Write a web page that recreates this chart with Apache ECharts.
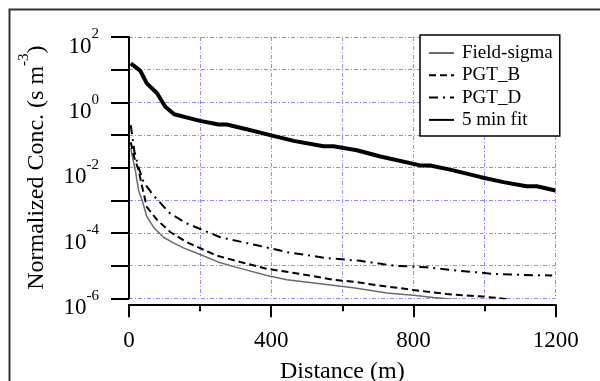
<!DOCTYPE html>
<html>
<head>
<meta charset="utf-8">
<script src="https://cdn.jsdelivr.net/npm/echarts@6/dist/echarts.min.js"></script>
<style>html,body{margin:0;padding:0;background:#fff}#c{width:600px;height:381px}</style>
</head>
<body>
<div id="c"></div>
<script>
// ---- data ----
const seriesNames = ['Field-sigma', 'PGT_B', 'PGT_D', '5 min fit'];
const fieldX = [5, 12, 18, 27, 37, 50, 69, 97, 125, 153, 200, 250, 300, 388, 444, 538, 631, 725, 800, 856, 908, 930];
const fieldY = [0.04, 0.016, 0.008, 0.002, 0.001, 3.2e-4, 1.5e-4, 7.4e-5, 5e-5, 3.5e-5, 2.2e-5, 1.3e-5, 9e-6, 5e-6, 3.7e-6, 2.8e-6, 2.1e-6, 1.45e-6, 1.23e-6, 1.05e-6, 9.3e-7, 8e-7];
const pgtBX = [5, 15, 27, 37, 50, 79, 116, 163, 248, 313, 388, 481, 575, 632, 700, 800, 894, 987, 1044, 1070];
const pgtBY = [0.06, 0.02, 0.0083, 0.0026, 6.3e-4, 2.5e-4, 1.07e-4, 5.2e-5, 2.0e-5, 1.3e-5, 8e-6, 5.6e-6, 3.7e-6, 3.2e-6, 2.5e-6, 1.8e-6, 1.35e-6, 1.15e-6, 1.0e-6, 9e-7];
const pgtDX = [5, 15, 27, 41, 69, 116, 163, 210, 257, 360, 444, 556, 650, 744, 837, 922, 1025, 1100, 1190];
const pgtDY = [0.2, 0.032, 0.01, 0.0036, 0.0014, 3.9e-4, 1.95e-4, 1.2e-4, 7.4e-5, 4.2e-5, 2.6e-5, 1.7e-5, 1.4e-5, 1.0e-5, 8.9e-6, 7.1e-6, 5.6e-6, 5.2e-6, 5.0e-6];
const fitX = [5, 32, 50, 79, 102, 127, 200, 252, 275, 322, 397, 463, 547, 575, 641, 707, 819, 847, 903, 987, 1053, 1118, 1147, 1199];
const fitY = [15.6, 9.2, 3.8, 1.9, 0.73, 0.43, 0.27, 0.21, 0.21, 0.158, 0.099, 0.066, 0.045, 0.045, 0.034, 0.022, 0.0117, 0.0117, 0.0087, 0.0052, 0.0036, 0.0027, 0.0027, 0.002];
const xTickLabels = ['0', '400', '800', '1200'];
const yTickExponents = ['2', '0', '-2', '-4', '-6'];

const SERIF = 'serif';
const pair = (xs, ys) => xs.map((x, i) => [x, ys[i]]);
const gridLine = { show: true, lineStyle: { color: '#8c8cff', width: 1, type: [4, 2, 1, 2] } };

const chart = echarts.init(document.getElementById('c'));
chart.setOption({
  textStyle: { fontFamily: SERIF },
  graphic: [{
    type: 'rect', silent: true, z: -1,
    shape: { x: 9.5, y: 9.5, width: 700, height: 500 },
    style: { fill: 'none', stroke: '#333', lineWidth: 2 }
  }],
  grid: { left: 129, right: 44.3, top: 37, bottom: 82.7, containLabel: false, outerBoundsMode: 'none' },
  legend: {
    left: 420, top: 35, orient: 'vertical',
    padding: [8, 7, 6, 8],
    itemWidth: 25, itemHeight: 14, itemGap: 2.3,
    itemStyle: { opacity: 0 },
    backgroundColor: '#fff', borderColor: '#000', borderWidth: 1.5,
    textStyle: { fontFamily: SERIF, fontSize: 19, color: '#000', lineHeight: 20, padding: [0, 0, 0, 3] },
    data: seriesNames
  },
  xAxis: [{
    type: 'value', min: 0, max: 1200, interval: 400, position: 'bottom', offset: 6,
    axisLine: { show: true, lineStyle: { color: '#000', width: 2 } },
    axisTick: { show: true, length: 13, lineStyle: { color: '#000', width: 2 } },
    axisLabel: {
      margin: 25, fontFamily: SERIF, fontSize: 23, color: '#000',
      formatter: v => xTickLabels[Math.round(v / 400)]
    },
    splitLine: { show: false },
    name: 'Distance (m)', nameLocation: 'middle', nameGap: 55,
    nameTextStyle: { fontFamily: SERIF, fontSize: 24, color: '#000' }
  }, {
    type: 'value', min: 0, max: 1200, interval: 200, position: 'bottom', offset: 6,
    axisLine: { show: false },
    axisTick: { show: true, length: 7, lineStyle: { color: '#000', width: 2 } },
    axisLabel: { show: false },
    splitLine: gridLine
  }],
  yAxis: {
    type: 'log', logBase: 10, min: 1e-6, max: 100, interval: 1, offset: 2,
    axisLine: { show: true, lineStyle: { color: '#000', width: 2 } },
    axisTick: { show: true, length: 18, lineStyle: { color: '#000', width: 2 } },
    axisLabel: {
      margin: 28, fontFamily: SERIF, fontSize: 23, color: '#000',
      formatter: v => {
        const e = String(Math.round(Math.log10(v)));
        return yTickExponents.indexOf(e) >= 0 ? '{b|10}{s|' + e + '}' : '';
      },
      rich: {
        b: { fontFamily: SERIF, fontSize: 23, color: '#000', lineHeight: 20, padding: [8, 0, 0, 0], verticalAlign: 'top' },
        s: { fontFamily: SERIF, fontSize: 15, color: '#000', lineHeight: 15, verticalAlign: 'top' }
      }
    },
    splitLine: gridLine,
    name: '{b|Normalized Conc. (s m}{s|-3}{b|)}',
    nameLocation: 'middle', nameRotate: 90, nameGap: 88,
    nameTextStyle: { fontFamily: SERIF, fontSize: 24, color: '#000', rich: {
      b: { fontFamily: SERIF, fontSize: 24, color: '#000', lineHeight: 22, padding: [8, 0, 0, 0], verticalAlign: 'top' },
      s: { fontFamily: SERIF, fontSize: 15, color: '#000', lineHeight: 15, verticalAlign: 'top' }
    } }
  },
  series: [
    { name: seriesNames[0], type: 'line', data: pair(fieldX, fieldY), symbol: 'none', animation: false,
      lineStyle: { color: '#6a6a6a', width: 1.5 }, itemStyle: { color: '#6a6a6a' } },
    { name: seriesNames[1], type: 'line', data: pair(pgtBX, pgtBY), symbol: 'none', animation: false,
      lineStyle: { color: '#000', width: 2, type: [7, 4] }, itemStyle: { color: '#000' } },
    { name: seriesNames[2], type: 'line', data: pair(pgtDX, pgtDY), symbol: 'none', animation: false,
      lineStyle: { color: '#000', width: 2, type: [9, 5, 2, 5] }, itemStyle: { color: '#000' } },
    { name: seriesNames[3], type: 'line', data: pair(fitX, fitY), symbol: 'none', animation: false,
      lineStyle: { color: '#000', width: 4 }, itemStyle: { color: '#000' } }
  ]
});
</script>
</body>
</html>
